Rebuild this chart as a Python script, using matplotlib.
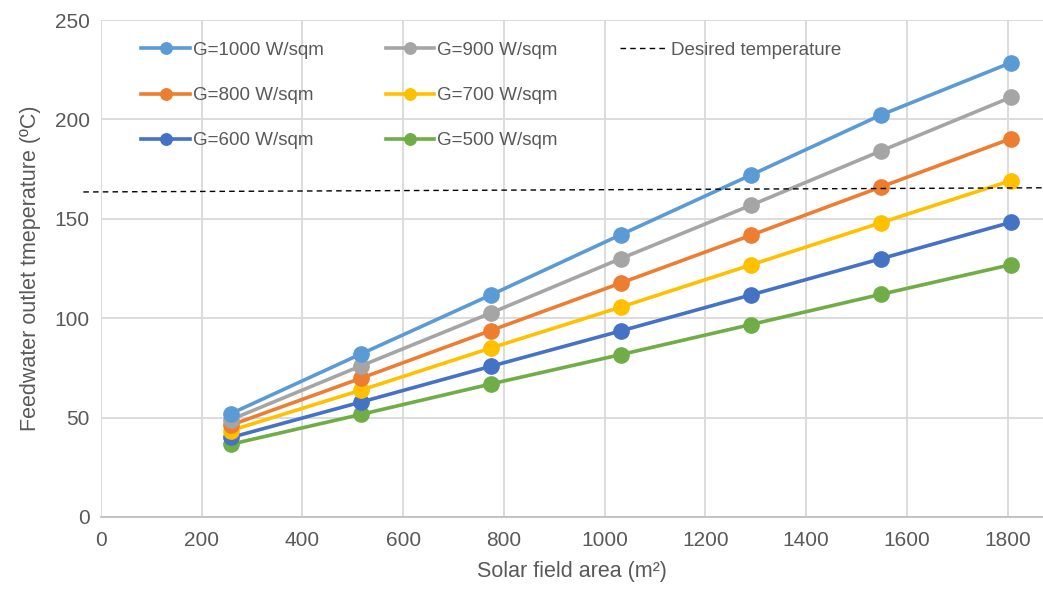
import numpy as np
import matplotlib.pyplot as plt
from matplotlib.lines import Line2D

plt.rcParams['font.family'] = ['Liberation Sans', 'DejaVu Sans']

# データ
area = [258, 516, 774, 1032, 1290, 1548, 1806]
g1000 = [52, 82, 111.7, 142, 172, 202.2, 228.5]
g900 = [49, 76, 102.6, 130, 156.8, 184.1, 211.1]
g800 = [46.2, 69.8, 93.8, 117.7, 141.7, 166, 190.3]
g700 = [43.5, 63.8, 85, 105.6, 126.8, 148, 169.2]
g600 = [40, 57.8, 75.8, 93.6, 111.7, 129.9, 148.2]
g500 = [36.6, 51.6, 66.9, 81.7, 96.8, 112, 126.9]
desired_x = [-35, 1870]
desired_y = [163.5, 165.6]

series = [
    ('G=1000 W/sqm', g1000, '#5B9BD5'),
    ('G=800 W/sqm', g800, '#ED7D31'),
    ('G=600 W/sqm', g600, '#4472C4'),
    ('G=900 W/sqm', g900, '#A5A5A5'),
    ('G=700 W/sqm', g700, '#FFC000'),
    ('G=500 W/sqm', g500, '#70AD47'),
]
draw_order = [0, 3, 1, 4, 2, 5]

fig = plt.figure(figsize=(10.43, 5.92), dpi=100)
ax = fig.add_axes([0.0968, 0.1267, 0.9032, 0.8395])

handles = [None] * 6
for i in reversed(draw_order):
    label, y, c = series[i]
    h, = ax.plot(area, y, color=c, lw=2.6, marker='o', ms=11, label=label,
                 zorder=3 + (6 - draw_order.index(i)) * 0.1)
    handles[i] = h

dl, = ax.plot(desired_x, desired_y, color='black', ls=(0, (4, 3)), lw=1.0, clip_on=False, zorder=5)

ax.set_xlim(0, 1870)
ax.set_ylim(0, 250)
ax.set_xticks(np.arange(0, 1801, 200))
ax.set_yticks(np.arange(0, 251, 50))
ax.grid(True, color='#d9d9d9', lw=1.3)
ax.set_axisbelow(True)
for s in ['top', 'right', 'left']:
    ax.spines[s].set_visible(False)
ax.spines['bottom'].set_color('#bfbfbf')
ax.spines['bottom'].set_linewidth(1.3)
ax.tick_params(length=0, labelsize=15, labelcolor='#595959', pad=10)
ax.tick_params(axis='y', pad=8)

ax.set_xlabel('Solar field area (m²)', fontsize=15.5, color='#595959', labelpad=8)
ax.set_ylabel('Feedwater outlet tmeperature (ºC)', fontsize=15.5, color='#595959', labelpad=10)

blank = Line2D([], [], color='none')
leg_handles = [handles[0], handles[1], handles[2], handles[3], handles[4], handles[5], dl, blank, blank]
leg_labels = ['G=1000 W/sqm', 'G=800 W/sqm', 'G=600 W/sqm', 'G=900 W/sqm', 'G=700 W/sqm', 'G=500 W/sqm',
              'Desired temperature', '', '']
leg = ax.legend(leg_handles, leg_labels, ncol=3, loc='upper left', bbox_to_anchor=(0.025, 0.99),
                frameon=False, fontsize=13.5, labelcolor='#595959', handlelength=2.6, handletextpad=0.15,
                columnspacing=3.3, labelspacing=1.5, markerscale=0.75)

plt.savefig('out.png', dpi=100)
